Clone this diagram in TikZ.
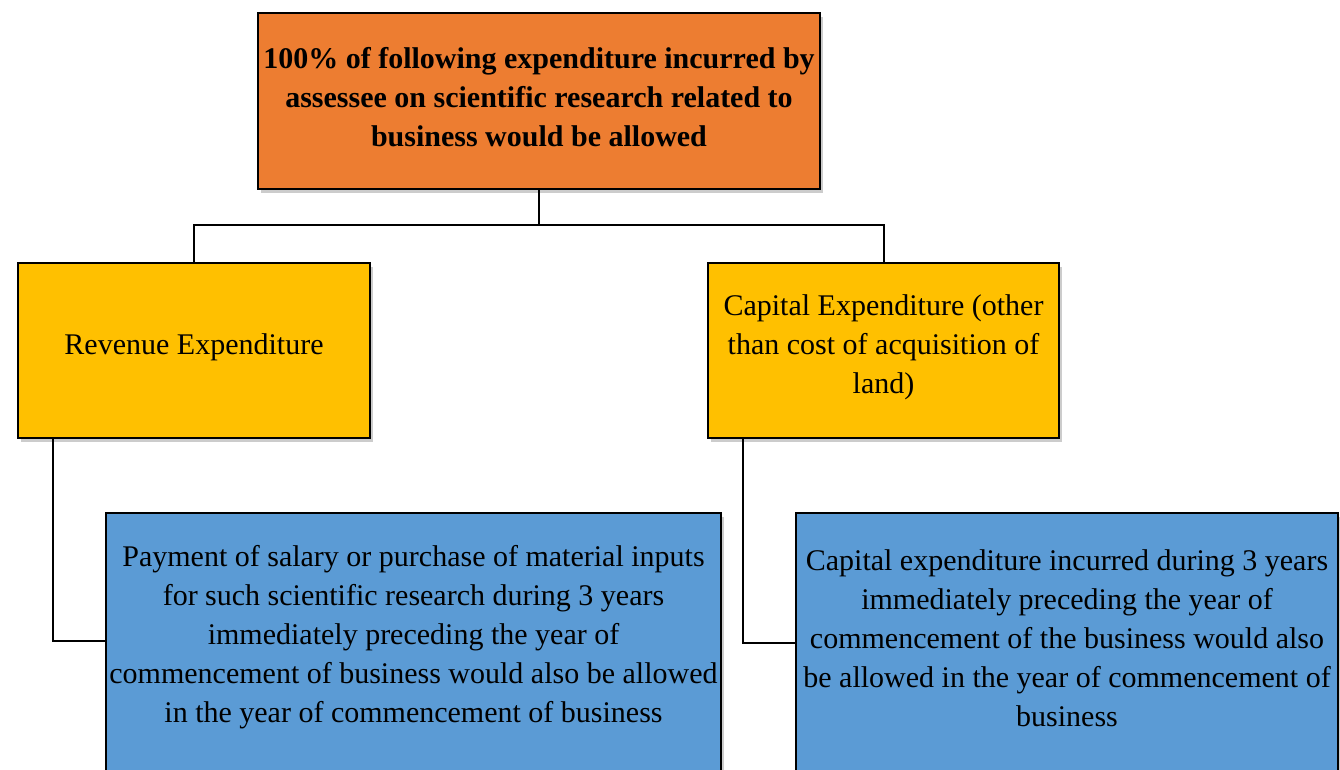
\documentclass[tikz,border=0pt]{standalone}
\usepackage{fontspec}
\setmainfont{Liberation Serif}
\usetikzlibrary{shadows}
\definecolor{headorange}{RGB}{237,125,49}
\definecolor{kindyellow}{RGB}{255,192,0}
\definecolor{ruleblue}{RGB}{91,155,213}

\tikzset{
  box/.style={draw=black, line width=2.2pt, drop shadow={shadow xshift=3pt, shadow yshift=-4pt, opacity=0.4}},
  boxtext/.style={align=center, font=\fontsize{30}{39}\selectfont, inner sep=0pt},
  link/.style={draw=black, line width=2pt}
}

\begin{document}
\begin{tikzpicture}[x=1pt, y=-1pt]
    \useasboundingbox (0,0) rectangle (1340,770);
    \clip (0,0) rectangle (1340,770);

    % top box
    \node[box, fill=headorange, minimum width=562pt, minimum height=176pt] (head) at (539,101) {};
    \node[boxtext, font=\fontsize{30}{39}\selectfont\bfseries] (headtxt) at (539,97)
        {100\% of following expenditure incurred by\\assessee on scientific research related to\\business would be allowed};

    % two kinds of expenditure
    \node[box, fill=kindyellow, minimum width=352pt, minimum height=175pt] (rev) at (194,350.5) {};
    \node[boxtext] (revtxt) at (194,347) {Revenue Expenditure};

    \node[box, fill=kindyellow, minimum width=351pt, minimum height=175pt] (cap) at (883.5,350.5) {};
    \node[boxtext] (captxt) at (883.5,347) {Capital Expenditure (other\\than cost of acquisition of\\land)};

    % details
    \node[box, fill=ruleblue, minimum width=615pt, minimum height=320pt] (pay) at (413.5,673) {};
    \node[boxtext] (paytxt) at (413.5,637)
        {Payment of salary or purchase of material inputs\\for such scientific research during 3 years\\immediately preceding the year of\\commencement of business would also be allowed\\in the year of commencement of business};

    \node[box, fill=ruleblue, minimum width=542pt, minimum height=320pt] (capx) at (1067,673) {};
    \node[boxtext] (capxtxt) at (1067,638)
        {Capital expenditure incurred during 3 years\\immediately preceding the year of\\commencement of the business would also\\be allowed in the year of commencement of\\business};

    % connectors
    \coordinate (fork) at (539,225);
    \coordinate (revfoot) at (53,641);
    \coordinate (capfoot) at (743,643);
    \draw[link] (head.south) -- (fork);
    \draw[link] (rev.north) |- (fork) -| (cap.north);
    \draw[link] (revfoot |- rev.south) -- (revfoot) -- (pay.west |- revfoot);
    \draw[link] (capfoot |- cap.south) -- (capfoot) -- (capx.west |- capfoot);
\end{tikzpicture}
\end{document}
